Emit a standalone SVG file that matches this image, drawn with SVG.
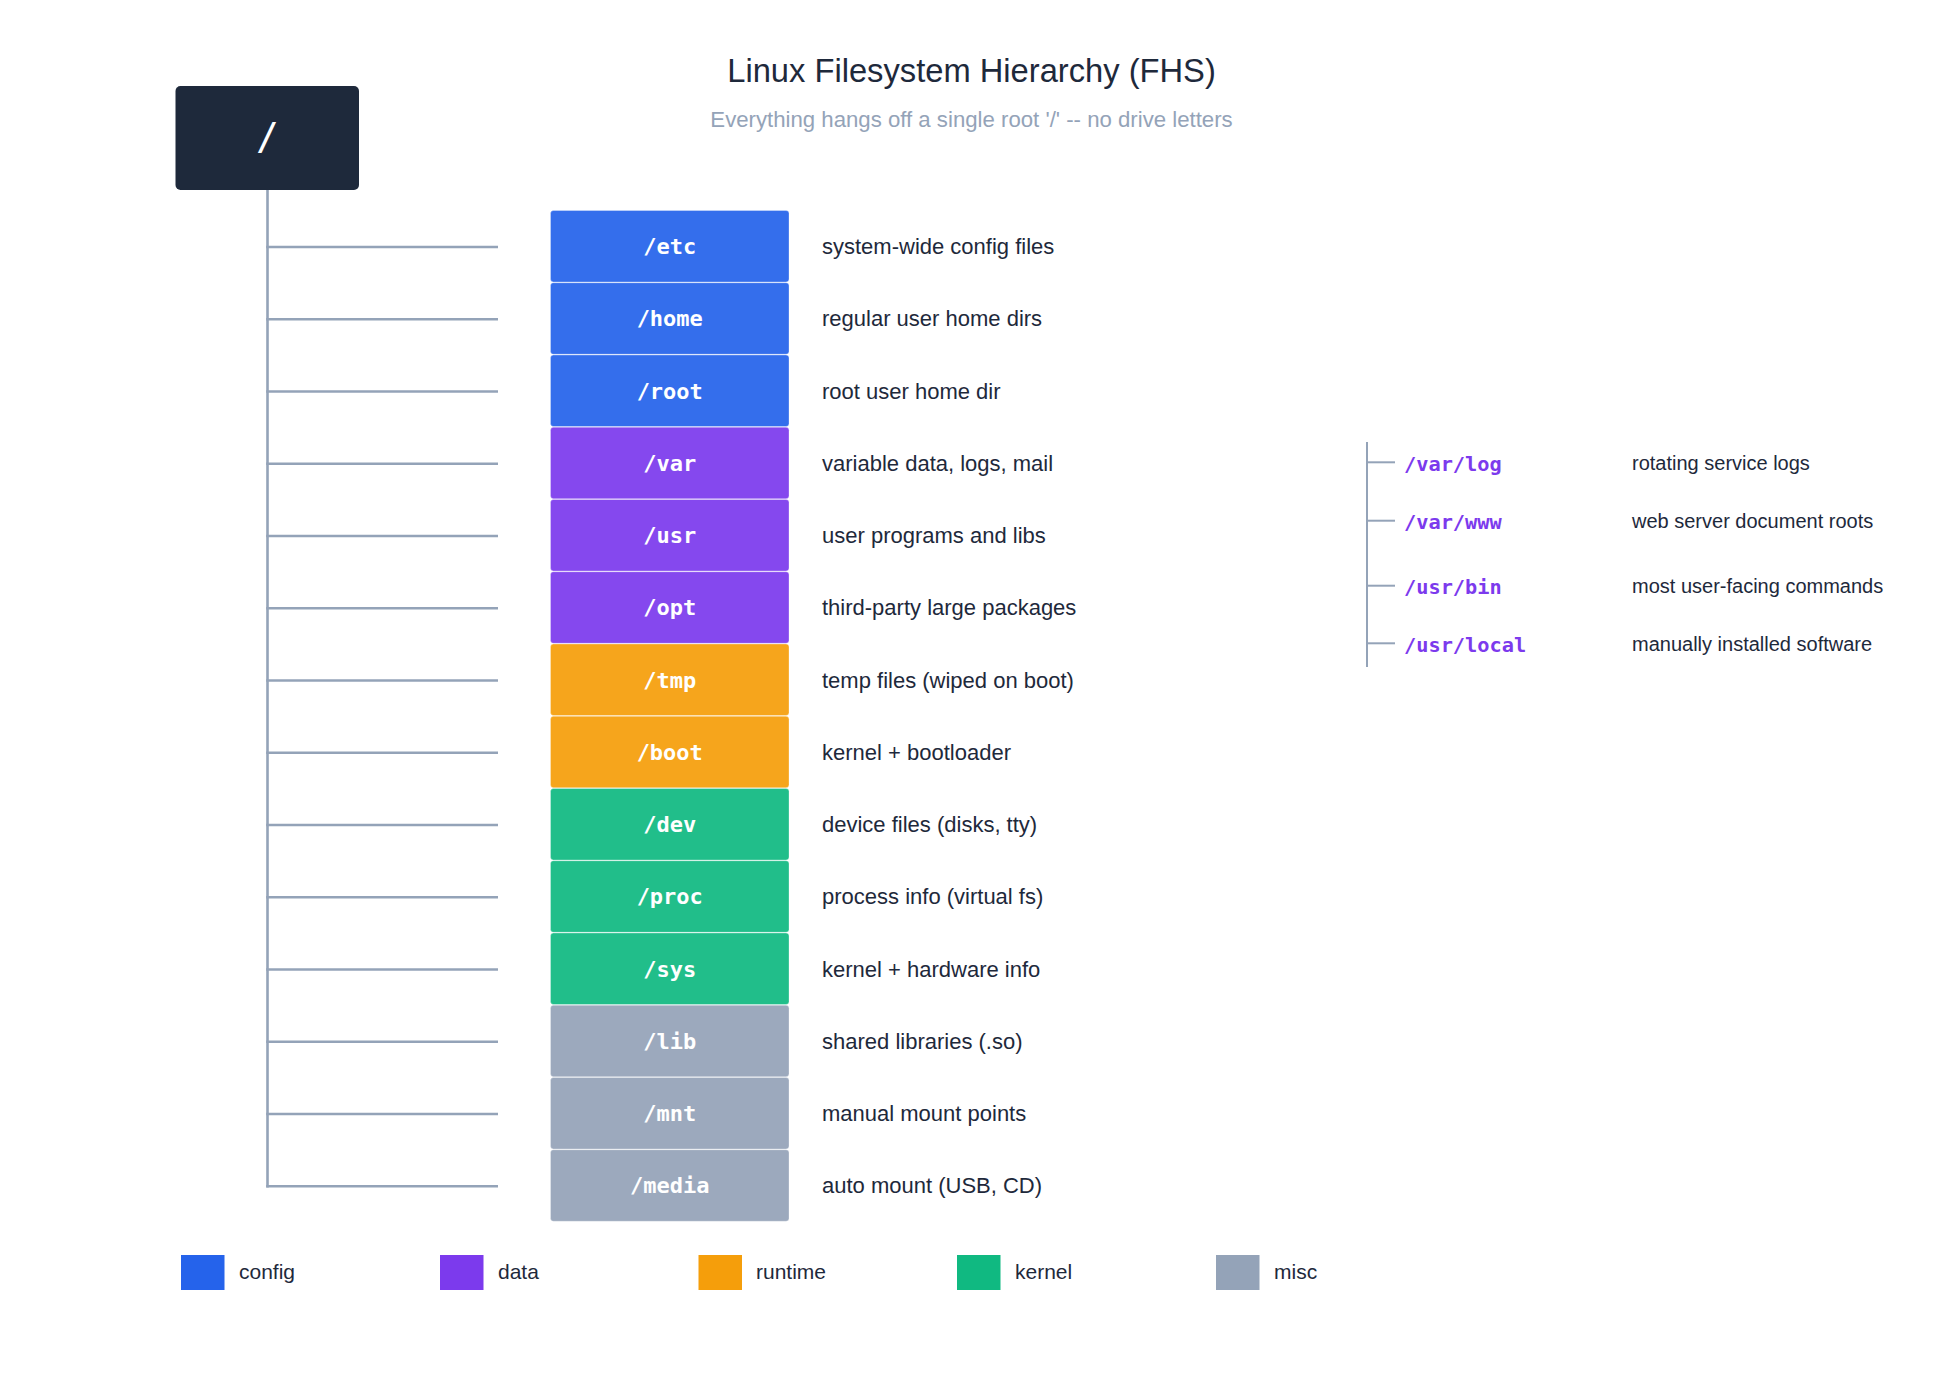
<svg xmlns="http://www.w3.org/2000/svg" width="1943" height="1375" viewBox="0 0 1943 1375">
  <style>
    .title { font-family: "Liberation Sans", Arial, sans-serif; font-size: 32.7px; fill: #1e293b; }
    .subtitle { font-family: "Liberation Sans", Arial, sans-serif; font-size: 22.2px; fill: #94a3b8; }
    .box { stroke: #ffffff; stroke-opacity: 0.3; stroke-width: 1; fill-opacity: 0.93; }
    .blabel { font-family: "DejaVu Sans Mono", "Liberation Mono", monospace; font-weight: bold; font-size: 22px; fill: #ffffff; }
    .desc { font-family: "Liberation Sans", Arial, sans-serif; font-size: 22px; fill: #1e293b; }
    .sublabel { font-family: "DejaVu Sans Mono", "Liberation Mono", monospace; font-weight: bold; font-size: 20.3px; fill: #7c3aed; }
    .subdesc { font-family: "Liberation Sans", Arial, sans-serif; font-size: 20px; fill: #1e293b; }
    .legend { font-family: "Liberation Sans", Arial, sans-serif; font-size: 21px; fill: #1e293b; }
    .conn { stroke: #94a3b8; stroke-width: 2.6; fill: none; }
    .subconn { stroke: #94a3b8; stroke-width: 2; fill: none; }
    .config { fill: #2563eb; }
    .data { fill: #7c3aed; }
    .runtime { fill: #f59e0b; }
    .kernel { fill: #10b981; }
    .misc { fill: #94a3b8; }
  </style>

  <rect x="0" y="0" width="1943" height="1375" fill="#ffffff"/>

  <text class="title" x="971.5" y="82" text-anchor="middle">Linux Filesystem Hierarchy (FHS)</text>
  <text class="subtitle" x="971.5" y="127" text-anchor="middle">Everything hangs off a single root '/' -- no drive letters</text>

  <g id="connectors">
    <line class="conn" x1="267.5" y1="190" x2="267.5" y2="1187.5"/>
    <line class="conn" x1="266.2" y1="247" x2="498" y2="247"/>
    <line class="conn" x1="266.2" y1="319.25" x2="498" y2="319.25"/>
    <line class="conn" x1="266.2" y1="391.5" x2="498" y2="391.5"/>
    <line class="conn" x1="266.2" y1="463.75" x2="498" y2="463.75"/>
    <line class="conn" x1="266.2" y1="536" x2="498" y2="536"/>
    <line class="conn" x1="266.2" y1="608.25" x2="498" y2="608.25"/>
    <line class="conn" x1="266.2" y1="680.5" x2="498" y2="680.5"/>
    <line class="conn" x1="266.2" y1="752.75" x2="498" y2="752.75"/>
    <line class="conn" x1="266.2" y1="825" x2="498" y2="825"/>
    <line class="conn" x1="266.2" y1="897.25" x2="498" y2="897.25"/>
    <line class="conn" x1="266.2" y1="969.5" x2="498" y2="969.5"/>
    <line class="conn" x1="266.2" y1="1041.75" x2="498" y2="1041.75"/>
    <line class="conn" x1="266.2" y1="1114" x2="498" y2="1114"/>
    <line class="conn" x1="266.2" y1="1186.25" x2="498" y2="1186.25"/>
    <line class="subconn" x1="1367" y1="442" x2="1367" y2="667"/>
    <line class="subconn" x1="1367" y1="462.3" x2="1395" y2="462.3"/>
    <line class="subconn" x1="1367" y1="520.7" x2="1395" y2="520.7"/>
    <line class="subconn" x1="1367" y1="585.7" x2="1395" y2="585.7"/>
    <line class="subconn" x1="1367" y1="643.3" x2="1395" y2="643.3"/>
  </g>

  <g id="root">
    <rect x="175.5" y="86" width="183.5" height="104" rx="5" fill="#1e293b"/>
    <text x="267.5" y="149" text-anchor="middle" font-family="DejaVu Sans Mono, Liberation Mono, monospace" font-size="38" fill="#ffffff">/</text>
  </g>

  <g id="node-etc">
    <rect class="box config" x="550.5" y="210.5" width="238.5" height="71.5" rx="3"/>
    <text class="blabel" x="669.75" y="254" text-anchor="middle">/etc</text>
    <text class="desc" x="822" y="254">system-wide config files</text>
  </g>
  <g id="node-home">
    <rect class="box config" x="550.5" y="282.75" width="238.5" height="71.5" rx="3"/>
    <text class="blabel" x="669.75" y="326.25" text-anchor="middle">/home</text>
    <text class="desc" x="822" y="326.25">regular user home dirs</text>
  </g>
  <g id="node-root">
    <rect class="box config" x="550.5" y="355" width="238.5" height="71.5" rx="3"/>
    <text class="blabel" x="669.75" y="398.5" text-anchor="middle">/root</text>
    <text class="desc" x="822" y="398.5">root user home dir</text>
  </g>
  <g id="node-var">
    <rect class="box data" x="550.5" y="427.25" width="238.5" height="71.5" rx="3"/>
    <text class="blabel" x="669.75" y="470.75" text-anchor="middle">/var</text>
    <text class="desc" x="822" y="470.75">variable data, logs, mail</text>
  </g>
  <g id="node-usr">
    <rect class="box data" x="550.5" y="499.5" width="238.5" height="71.5" rx="3"/>
    <text class="blabel" x="669.75" y="543" text-anchor="middle">/usr</text>
    <text class="desc" x="822" y="543">user programs and libs</text>
  </g>
  <g id="node-opt">
    <rect class="box data" x="550.5" y="571.75" width="238.5" height="71.5" rx="3"/>
    <text class="blabel" x="669.75" y="615.25" text-anchor="middle">/opt</text>
    <text class="desc" x="822" y="615.25">third-party large packages</text>
  </g>
  <g id="node-tmp">
    <rect class="box runtime" x="550.5" y="644" width="238.5" height="71.5" rx="3"/>
    <text class="blabel" x="669.75" y="687.5" text-anchor="middle">/tmp</text>
    <text class="desc" x="822" y="687.5">temp files (wiped on boot)</text>
  </g>
  <g id="node-boot">
    <rect class="box runtime" x="550.5" y="716.25" width="238.5" height="71.5" rx="3"/>
    <text class="blabel" x="669.75" y="759.75" text-anchor="middle">/boot</text>
    <text class="desc" x="822" y="759.75">kernel + bootloader</text>
  </g>
  <g id="node-dev">
    <rect class="box kernel" x="550.5" y="788.5" width="238.5" height="71.5" rx="3"/>
    <text class="blabel" x="669.75" y="832" text-anchor="middle">/dev</text>
    <text class="desc" x="822" y="832">device files (disks, tty)</text>
  </g>
  <g id="node-proc">
    <rect class="box kernel" x="550.5" y="860.75" width="238.5" height="71.5" rx="3"/>
    <text class="blabel" x="669.75" y="904.25" text-anchor="middle">/proc</text>
    <text class="desc" x="822" y="904.25">process info (virtual fs)</text>
  </g>
  <g id="node-sys">
    <rect class="box kernel" x="550.5" y="933" width="238.5" height="71.5" rx="3"/>
    <text class="blabel" x="669.75" y="976.5" text-anchor="middle">/sys</text>
    <text class="desc" x="822" y="976.5">kernel + hardware info</text>
  </g>
  <g id="node-lib">
    <rect class="box misc" x="550.5" y="1005.25" width="238.5" height="71.5" rx="3"/>
    <text class="blabel" x="669.75" y="1048.75" text-anchor="middle">/lib</text>
    <text class="desc" x="822" y="1048.75">shared libraries (.so)</text>
  </g>
  <g id="node-mnt">
    <rect class="box misc" x="550.5" y="1077.5" width="238.5" height="71.5" rx="3"/>
    <text class="blabel" x="669.75" y="1121" text-anchor="middle">/mnt</text>
    <text class="desc" x="822" y="1121">manual mount points</text>
  </g>
  <g id="node-media">
    <rect class="box misc" x="550.5" y="1149.75" width="238.5" height="71.5" rx="3"/>
    <text class="blabel" x="669.75" y="1193.25" text-anchor="middle">/media</text>
    <text class="desc" x="822" y="1193.25">auto mount (USB, CD)</text>
  </g>

  <g id="sub-var-log">
    <text class="sublabel" x="1404" y="470.5">/var/log</text>
    <text class="subdesc" x="1632" y="470">rotating service logs</text>
  </g>
  <g id="sub-var-www">
    <text class="sublabel" x="1404" y="528.9">/var/www</text>
    <text class="subdesc" x="1632" y="528.4">web server document roots</text>
  </g>
  <g id="sub-usr-bin">
    <text class="sublabel" x="1404" y="593.9">/usr/bin</text>
    <text class="subdesc" x="1632" y="593.4">most user-facing commands</text>
  </g>
  <g id="sub-usr-local">
    <text class="sublabel" x="1404" y="651.5">/usr/local</text>
    <text class="subdesc" x="1632" y="651">manually installed software</text>
  </g>

  <g id="legend">
    <rect class="config" x="181" y="1255" width="43.5" height="35"/>
    <text class="legend" x="239" y="1279">config</text>
    <rect class="data" x="440" y="1255" width="43.5" height="35"/>
    <text class="legend" x="498" y="1279">data</text>
    <rect class="runtime" x="698.5" y="1255" width="43.5" height="35"/>
    <text class="legend" x="756" y="1279">runtime</text>
    <rect class="kernel" x="957" y="1255" width="43.5" height="35"/>
    <text class="legend" x="1015" y="1279">kernel</text>
    <rect class="misc" x="1216" y="1255" width="43.5" height="35"/>
    <text class="legend" x="1274" y="1279">misc</text>
  </g>
</svg>
